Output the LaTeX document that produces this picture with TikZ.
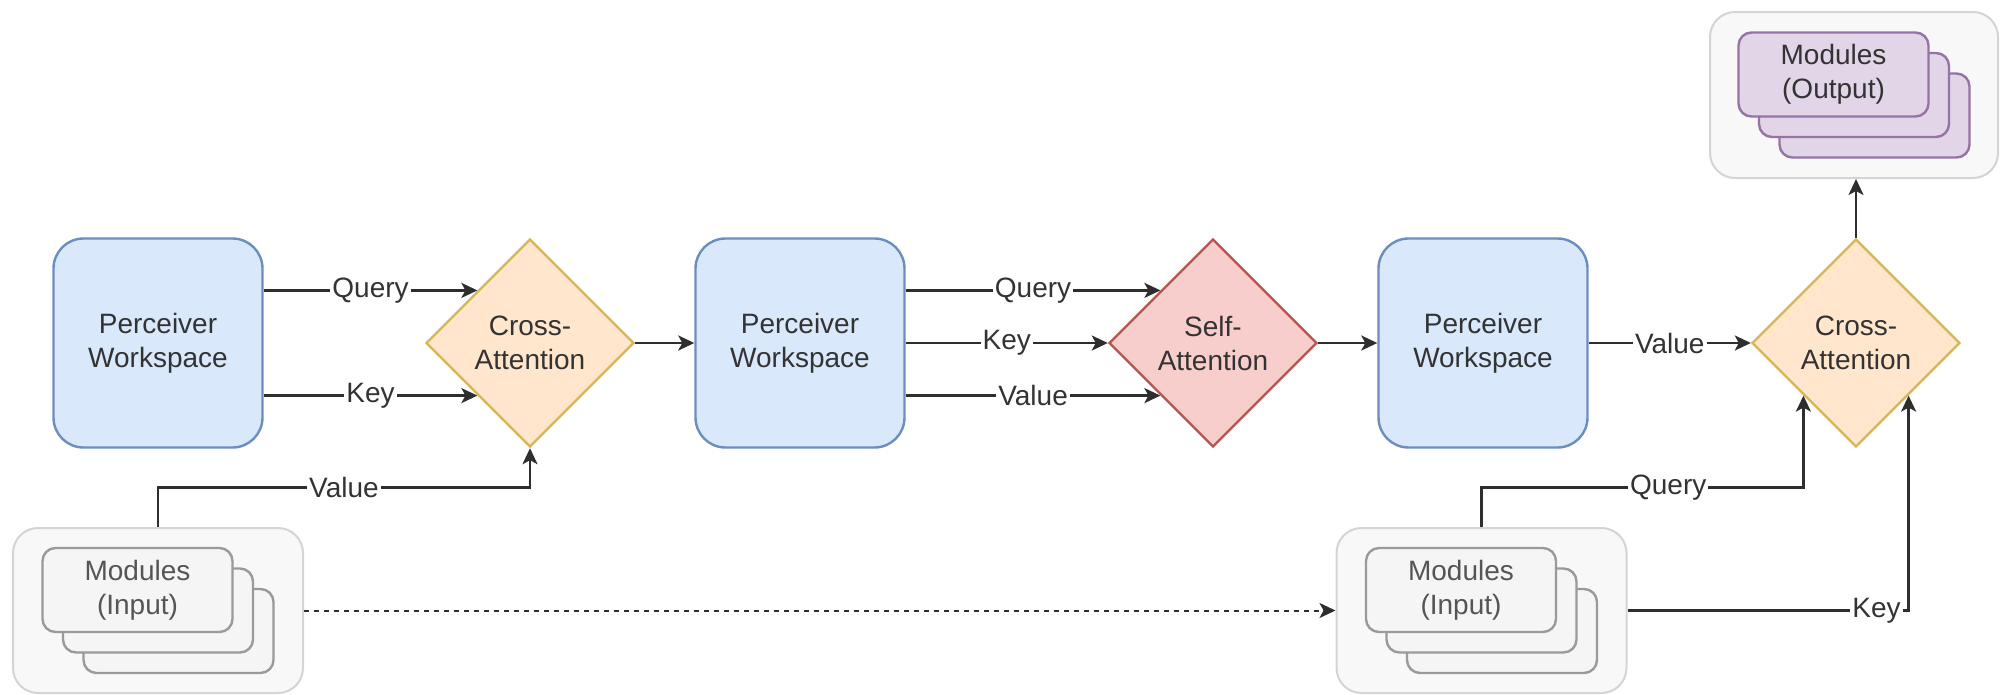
\documentclass[tikz,border=0pt]{standalone}
\usepackage{fontspec}
\setmainfont{Liberation Sans}
\usetikzlibrary{shapes.geometric,arrows.meta,calc}
\definecolor{wsfill}{HTML}{DAE8FC}
\definecolor{wsdraw}{HTML}{6C8EBF}
\definecolor{cafill}{HTML}{FFE6CC}
\definecolor{cadraw}{HTML}{D6B656}
\definecolor{safill}{HTML}{F8CECC}
\definecolor{sadraw}{HTML}{B85450}
\definecolor{oufill}{HTML}{E1D5E7}
\definecolor{oudraw}{HTML}{9673A6}
\definecolor{contfill}{HTML}{F8F8F8}
\definecolor{contdraw}{HTML}{D4D4D4}
\definecolor{infill}{HTML}{F5F5F5}
\definecolor{indraw}{HTML}{9A9A9A}
\definecolor{txt}{HTML}{333333}
\definecolor{intxt}{HTML}{555555}
\definecolor{linec}{HTML}{2E2E2E}
\newcommand{\mainfs}{\fontsize{28}{34}\selectfont}
\begin{document}
\begin{tikzpicture}[x=1pt,y=-1pt,
  ws/.style={draw=wsdraw, fill=wsfill, rounded corners=30pt, minimum width=209pt,
    minimum height=209pt, line width=2.4pt, inner sep=0pt, align=center, font=\mainfs, text=txt},
  dia/.style={diamond, aspect=1, minimum width=208pt, minimum height=208pt, inner sep=0pt,
    line width=2.4pt, align=center, font=\mainfs, text=txt},
  cont/.style={draw=contdraw, fill=contfill, rounded corners=25pt, minimum width=290pt,
    minimum height=165pt, line width=2pt, inner sep=0pt},
  card/.style={rounded corners=13pt, minimum width=190pt, minimum height=84pt,
    line width=2.4pt, align=center, font=\mainfs, inner sep=0pt},
  incard/.style={card, draw=indraw, fill=infill, text=intxt},
  oucard/.style={card, draw=oudraw, fill=oufill, text=txt},
  lbl/.style={fill=white, inner sep=2pt, font=\mainfs, text=txt},
  arr/.style={line width=2.4pt, draw=linec, -{Stealth[length=16pt,width=15pt,inset=4pt]}}
]
\useasboundingbox (0,0) rectangle (2007,694);

% main row
\node[ws] (ws1) at (158,343) {Perceiver\\Workspace};
\node[dia, fill=cafill, draw=cadraw] (ca1) at (530,343) {Cross-\\Attention};
\node[ws] (ws2) at (800,343) {Perceiver\\Workspace};
\node[dia, fill=safill, draw=sadraw] (sa) at (1213,343) {Self-\\Attention};
\node[ws] (ws3) at (1483,343) {Perceiver\\Workspace};
\node[dia, fill=cafill, draw=cadraw] (ca2) at (1856,343) {Cross-\\Attention};

% input modules 1
\node[cont] (in1) at (158,610.5) {};
\node[incard] (in1c) at ($(in1)+(20.5,20.5)$) {};
\node[incard] (in1b) at (in1) {};
\node[incard] (in1a) at ($(in1)+(-20.5,-20.5)$) {Modules\\(Input)};

% input modules 2
\node[cont] (in2) at (1481.5,610.5) {};
\node[incard] (in2c) at ($(in2)+(20.5,20.5)$) {};
\node[incard] (in2b) at (in2) {};
\node[incard] (in2a) at ($(in2)+(-20.5,-20.5)$) {Modules\\(Input)};

% output modules
\node[cont, minimum width=288pt, minimum height=166pt] (out) at (1854,95) {};
\node[oucard] (outc) at ($(out)+(20.5,20.5)$) {};
\node[oucard] (outb) at (out) {};
\node[oucard] (outa) at ($(out)+(-20.5,-20.5)$) {Modules\\(Output)};

% connectors
\draw[arr] (ws1.east |- ca1.north west) -- node[lbl]{Query} (ca1.north west);
\draw[arr] (ws1.east |- ca1.south west) -- node[lbl]{Key} (ca1.south west);
\draw[arr] (ca1.east) -- (ws2.west);
\draw[arr] (ws2.east |- sa.north west) -- node[lbl]{Query} (sa.north west);
\draw[arr] (ws2.east) -- node[lbl]{Key} (sa.west);
\draw[arr] (ws2.east |- sa.south west) -- node[lbl]{Value} (sa.south west);
\draw[arr] (sa.east) -- (ws3.west);
\draw[arr] (ws3.east) -- node[lbl]{Value} (ca2.west);
\draw[arr] (ca2.north) -- (ca2.north |- out.south);

\coordinate (m1) at ($(ws1.center |- in1.north)!.5!(ws1.center |- ca1.south)$);
\draw[arr] (ws1.center |- in1.north) -- (m1) -- node[lbl]{Value} (m1 -| ca1.south) -- (ca1.south);

\coordinate (m2) at ($(in2.north)!.5!(in2.north |- ca2.south)$);
\draw[arr] (in2.north) -- (m2) -- node[lbl,pos=0.58]{Query} (m2 -| ca2.south west) -- (ca2.south west);

\draw[arr] (in2.east) -- node[lbl,pos=0.886]{Key} (in2.east -| ca2.south east) -- (ca2.south east);

\draw[arr, dash pattern=on 5pt off 5pt, line width=2pt] (in1.east) -- (in2.west);
\end{tikzpicture}
\end{document}
